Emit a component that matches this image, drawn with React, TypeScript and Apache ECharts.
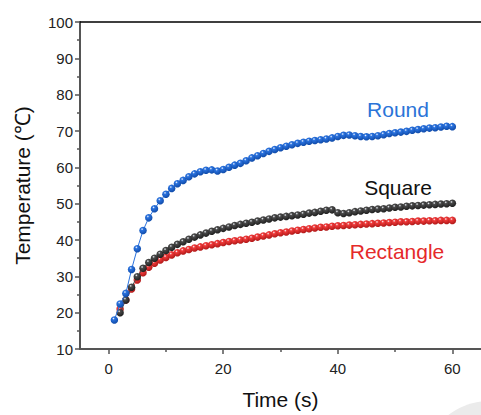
import React, { useEffect, useRef } from "react";
import * as echarts from "echarts";

const timeRound = [1,2,3,4,5,6,7,8,9,10,11,12,13,14,15,16,17,18,19,20,21,22,23,24,25,26,27,28,29,30,31,32,33,34,35,36,37,38,39,40,41,42,43,44,45,46,47,48,49,50,51,52,53,54,55,56,57,58,59,60];
const round = [18,22.4,25.3,31.9,37.6,42.6,46.1,48.6,50.8,52.6,54.2,55.5,56.4,57.4,58.2,58.8,59.2,59.3,59.0,59.4,60.0,60.6,61.1,61.8,62.6,63.2,63.8,64.4,64.9,65.4,65.8,66.2,66.6,66.9,67.2,67.4,67.6,67.8,68.1,68.5,68.8,68.9,68.7,68.5,68.4,68.5,68.7,69.0,69.3,69.5,69.7,69.9,70.2,70.4,70.6,70.8,70.9,71.1,71.3,71.2];

const timeOther = [2,3,4,5,6,7,8,9,10,11,12,13,14,15,16,17,18,19,20,21,22,23,24,25,26,27,28,29,30,31,32,33,34,35,36,37,38,39,40,41,42,43,44,45,46,47,48,49,50,51,52,53,54,55,56,57,58,59,60];
const square = [20.0,23.5,27.0,29.9,32.2,33.8,35.0,36.1,37.1,38.0,38.8,39.5,40.2,40.8,41.4,41.9,42.4,42.8,43.2,43.6,44.0,44.3,44.6,44.9,45.2,45.5,45.8,46.1,46.3,46.5,46.7,46.9,47.1,47.4,47.6,47.9,48.2,48.3,47.5,47.3,47.5,47.8,48.0,48.2,48.4,48.5,48.6,48.8,49.0,49.1,49.3,49.4,49.5,49.6,49.7,49.8,49.9,50.0,50.1];
const rectangle = [21.0,23.5,26.5,29.0,31.0,32.5,33.6,34.5,35.2,35.9,36.5,37.0,37.4,37.8,38.1,38.4,38.7,39.0,39.3,39.6,39.8,40.0,40.2,40.5,40.8,41.1,41.4,41.7,42.0,42.2,42.5,42.7,42.9,43.1,43.3,43.5,43.6,43.8,43.9,44.0,44.1,44.2,44.3,44.4,44.5,44.6,44.7,44.8,44.9,45.0,45.0,45.1,45.2,45.2,45.3,45.3,45.4,45.4,45.4];

const labels = ["Round", "Square", "Rectangle"];

const FONT = "'Liberation Sans', Arial, sans-serif";

function ball(base: string, dark: string) {
  return new echarts.graphic.RadialGradient(0.38, 0.32, 0.7, [
    { offset: 0, color: "#f4f8ff" },
    { offset: 0.25, color: base },
    { offset: 1, color: dark },
  ]);
}

function mkSeries(name: string, xs: number[], ys: number[], base: string, dark: string, z: number) {
  return {
    name,
    type: "line",
    data: xs.map((x, i) => [x, ys[i]]),
    symbol: "circle",
    symbolSize: 7.5,
    showSymbol: true,
    z,
    lineStyle: { color: base, width: 1 },
    itemStyle: { color: ball(base, dark), borderWidth: 0 },
  };
}

export default function App() {
  const ref = useRef<HTMLDivElement>(null);
  useEffect(() => {
    if (!ref.current) return;
    const chart = echarts.init(ref.current, null, { renderer: "svg" });
    chart.setOption({
      animation: false,
      backgroundColor: "#ffffff",
      grid: { left: 80, top: 22, width: 402.5, height: 327 },
      xAxis: [
        {
          type: "value",
          min: -5,
          max: 65,
          interval: 20,
          position: "bottom",
          axisLine: { show: true, onZero: false, lineStyle: { color: "#555", width: 2 } },
          axisTick: { show: true, length: 5, inside: false, lineStyle: { color: "#555", width: 1.5 }, customValues: [0, 20, 40, 60] },
          minorTick: { show: false },
          axisLabel: { color: "#222", fontSize: 15, fontFamily: FONT, margin: 12, customValues: [0, 20, 40, 60] },
          splitLine: { show: false },
          name: "Time (s)",
          nameLocation: "middle",
          nameGap: 40,
          nameTextStyle: { color: "#111", fontSize: 21, fontFamily: FONT },
        },
        {
          type: "value",
          min: -5,
          max: 65,
          position: "top",
          axisLine: { show: true, onZero: false, lineStyle: { color: "#000", width: 1.5 } },
          axisTick: { show: false },
          axisLabel: { show: false },
          splitLine: { show: false },
        },
        {
          type: "value",
          min: -5,
          max: 65,
          position: "bottom",
          axisLine: { show: false },
          axisTick: { show: true, length: 3, lineStyle: { color: "#555", width: 1.5 }, customValues: [10, 30, 50] },
          axisLabel: { show: false },
          splitLine: { show: false },
        },
      ],
      yAxis: {
        type: "value",
        min: 10,
        max: 100,
        interval: 10,
        axisLine: { show: true, onZero: false, lineStyle: { color: "#555", width: 2 } },
        axisTick: { show: true, length: 5, lineStyle: { color: "#555", width: 1.5 } },
        minorTick: { show: true, splitNumber: 2, length: 3, lineStyle: { color: "#555", width: 1.5 } },
        axisLabel: { color: "#222", fontSize: 15, fontFamily: FONT, margin: 7 },
        splitLine: { show: false },
        name: "Temperature (℃)",
        nameLocation: "middle",
        nameGap: 47,
        nameTextStyle: { color: "#111", fontSize: 21, fontFamily: FONT },
      },
      series: [
        mkSeries("Rectangle", timeOther, rectangle, "#f03a3a", "#b01818", 2),
        mkSeries("Square", timeOther, square, "#4a4a4a", "#1e1e1e", 3),
        mkSeries("Round", timeRound, round, "#2a72de", "#0f4aa8", 4),
      ],
      graphic: [
        { type: "circle", shape: { cx: 490, cy: 470, r: 69 }, style: { fill: "#ebebeb" }, z: -1 },
        { type: "text", x: 398, y: 109, style: { text: labels[0], fill: "#2b74d8", fontSize: 21, fontFamily: FONT, align: "center", verticalAlign: "middle" } },
        { type: "text", x: 398, y: 187, style: { text: labels[1], fill: "#111", fontSize: 21, fontFamily: FONT, align: "center", verticalAlign: "middle" } },
        { type: "text", x: 397, y: 251, style: { text: labels[2], fill: "#e52a2a", fontSize: 21, fontFamily: FONT, align: "center", verticalAlign: "middle" } },
      ],
    });
    return () => chart.dispose();
  }, []);
  return <div ref={ref} style={{ position: "fixed", left: 0, top: 0, width: 481, height: 415 }} />;
}
